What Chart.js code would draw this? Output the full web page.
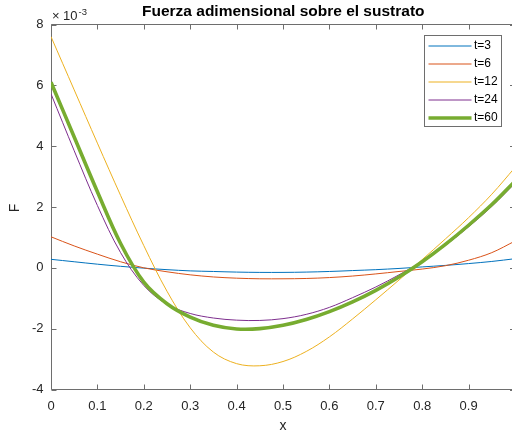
<!DOCTYPE html>
<html>
<head>
<meta charset="utf-8">
<script src="https://cdn.jsdelivr.net/npm/chart.js@4/dist/chart.umd.min.js"></script>
<style>
  html, body { margin: 0; padding: 0; background: #fff; overflow: hidden; width: 512px; height: 435px; }
  canvas { display: block; }
</style>
</head>
<body>
<canvas id="c" width="530" height="435"></canvas>
<script>
// Sample positions along the substrate
const xValues = [0, 0.05, 0.1, 0.15, 0.2, 0.25, 0.3, 0.35, 0.4, 0.45, 0.5,
                 0.55, 0.6, 0.65, 0.7, 0.75, 0.8, 0.85, 0.9, 0.95, 1];

// Dimensionless force F, in units of 10^-3
const yExponent = -3;
const F_t3  = [0.28, 0.20, 0.12, 0.05, -0.01, -0.06, -0.10, -0.12, -0.14, -0.15, -0.15,
               -0.14, -0.12, -0.09, -0.06, -0.02, 0.03, 0.08, 0.14, 0.21, 0.30];
const F_t6  = [1.02, 0.72, 0.45, 0.20, 0.00, -0.13, -0.23, -0.30, -0.34, -0.36, -0.36,
               -0.35, -0.32, -0.27, -0.20, -0.12, -0.04, 0.07, 0.25, 0.50, 0.88];
const F_t12 = [7.60, 5.85, 4.10, 2.38, 0.73, -0.77, -1.97, -2.77, -3.15, -3.22, -3.08,
               -2.75, -2.27, -1.68, -1.05, -0.40, 0.27, 0.95, 1.65, 2.42, 3.30];
const F_t24 = [5.72, 3.85, 2.05, 0.50, -0.58, -1.20, -1.50, -1.65, -1.72, -1.73, -1.67,
               -1.53, -1.30, -0.98, -0.63, -0.23, 0.21, 0.74, 1.35, 2.02, 2.78];
const F_t60 = [6.10, 4.30, 2.50, 0.80, -0.47, -1.18, -1.62, -1.89, -2.01, -2.00, -1.89,
               -1.70, -1.44, -1.12, -0.74, -0.30, 0.20, 0.77, 1.40, 2.08, 2.85];

const seriesLabels = ['t=3', 't=6', 't=12', 't=24', 't=60'];
const seriesValues = [F_t3, F_t6, F_t12, F_t24, F_t60];
const seriesColors = ['#0072BD', '#D95319', '#EDB120', '#7E2F8E', '#77AC30'];
const seriesWidths = [1, 1, 1, 1, 3.6];

const xTicks = [0, 0.1, 0.2, 0.3, 0.4, 0.5, 0.6, 0.7, 0.8, 0.9, 1];
const yTicks = [-4, -2, 0, 2, 4, 6, 8];

const titleText = 'Fuerza adimensional sobre el sustrato';
const xLabel = 'x';
const yLabel = 'F';

const TEXT_COLOR = '#262626';
const LINE_COLOR = '#6e6e6e';
const FONT = '"Liberation Sans", Arial, Helvetica, sans-serif';

const datasets = seriesLabels.map((label, i) => ({
  label,
  data: xValues.map((x, k) => ({ x, y: seriesValues[i][k] })),
  borderColor: seriesColors[i],
  backgroundColor: seriesColors[i],
  borderWidth: seriesWidths[i],
  pointRadius: 0,
  fill: false,
  tension: 0.35,
  order: seriesLabels.length - i
}));

// Box, inward ticks, title, axis labels, exponent and legend
const matlabAxes = {
  id: 'matlabAxes',
  beforeDatasetsDraw(chart) {
    const { ctx, chartArea: a, scales: { x, y } } = chart;
    const L = Math.round(a.left) + 0.5;
    ctx.save();
    ctx.strokeStyle = LINE_COLOR;
    ctx.lineWidth = 1;
    ctx.beginPath();
    ctx.moveTo(L, a.top); ctx.lineTo(a.right, a.top);
    ctx.moveTo(L, a.bottom); ctx.lineTo(a.right, a.bottom);
    ctx.moveTo(L, a.top); ctx.lineTo(L, a.bottom);
    ctx.moveTo(a.right, a.top); ctx.lineTo(a.right, a.bottom);
    const tl = 5;
    xTicks.forEach(v => {
      const px = Math.round(x.getPixelForValue(v)) + 0.5;
      ctx.moveTo(px, a.bottom); ctx.lineTo(px, a.bottom - tl);
      ctx.moveTo(px, a.top); ctx.lineTo(px, a.top + tl);
    });
    yTicks.forEach(v => {
      const py = Math.round(y.getPixelForValue(v)) + 0.5;
      ctx.moveTo(L, py); ctx.lineTo(L + tl, py);
      ctx.moveTo(a.right, py); ctx.lineTo(a.right - tl, py);
    });
    ctx.stroke();
    ctx.restore();
  },
  afterDraw(chart) {
    const { ctx } = chart;
    ctx.save();
    // title
    ctx.fillStyle = '#000';
    ctx.font = 'bold 15.5px ' + FONT;
    ctx.textBaseline = 'middle';
    ctx.textAlign = 'left';
    ctx.fillText(titleText, 142, 11.5);
    // exponent
    ctx.fillStyle = TEXT_COLOR;
    ctx.textBaseline = 'alphabetic';
    ctx.font = '13px ' + FONT;
    ctx.fillText('\u00d7', 52, 19.5);
    ctx.fillText('10', 63, 20);
    ctx.font = '9.5px ' + FONT;
    ctx.fillText(String(yExponent), 78.5, 15);
    // axis labels
    ctx.font = '14px ' + FONT;
    ctx.textAlign = 'center';
    ctx.textBaseline = 'middle';
    ctx.fillText(xLabel, 283, 426);
    ctx.save();
    ctx.translate(15, 208);
    ctx.rotate(-Math.PI / 2);
    ctx.fillText(yLabel, 0, 0);
    ctx.restore();
    // legend
    const bx = 424.5, by = 35.5, bw = 77, bh = 91;
    ctx.fillStyle = '#fff';
    ctx.fillRect(bx, by, bw, bh);
    ctx.strokeStyle = LINE_COLOR;
    ctx.lineWidth = 1;
    ctx.strokeRect(bx, by, bw, bh);
    ctx.font = '12px ' + FONT;
    ctx.textAlign = 'left';
    ctx.textBaseline = 'middle';
    chart.data.datasets.forEach((ds, i) => {
      const cy = 46 + i * 18;
      ctx.strokeStyle = ds.borderColor;
      ctx.lineWidth = ds.borderWidth;
      ctx.beginPath();
      ctx.moveTo(428.5, cy); ctx.lineTo(471.5, cy);
      ctx.stroke();
      ctx.fillStyle = '#000';
      ctx.fillText(ds.label, 474, cy);
    });
    ctx.restore();
  }
};

new Chart(document.getElementById('c'), {
  type: 'line',
  data: { datasets },
  options: {
    responsive: false,
    animation: false,
    devicePixelRatio: 1,
    layout: { padding: { top: 24.5, left: 0, right: 15, bottom: 0 } },
    plugins: { legend: { display: false }, tooltip: { enabled: false }, title: { display: false } },
    scales: {
      x: {
        type: 'linear', min: 0, max: 1,
        afterFit(s) { s.height = 45.5; },
        afterBuildTicks(s) { s.ticks = xTicks.map(v => ({ value: v })); },
        grid: { display: false, drawTicks: false },
        border: { display: false },
        ticks: {
          color: TEXT_COLOR, padding: 9.5, maxRotation: 0, autoSkip: false,
          font: { family: FONT, size: 13 },
          callback: v => String(Math.round(v * 10) / 10)
        }
      },
      y: {
        type: 'linear', min: -4, max: 8,
        afterFit(s) { s.width = 51; },
        afterBuildTicks(s) { s.ticks = yTicks.map(v => ({ value: v })); },
        grid: { display: false, drawTicks: false },
        border: { display: false },
        ticks: {
          color: TEXT_COLOR, padding: 7.5, autoSkip: false,
          font: { family: FONT, size: 13 },
          callback: v => String(v)
        }
      }
    }
  },
  plugins: [matlabAxes]
});
</script>
</body>
</html>
